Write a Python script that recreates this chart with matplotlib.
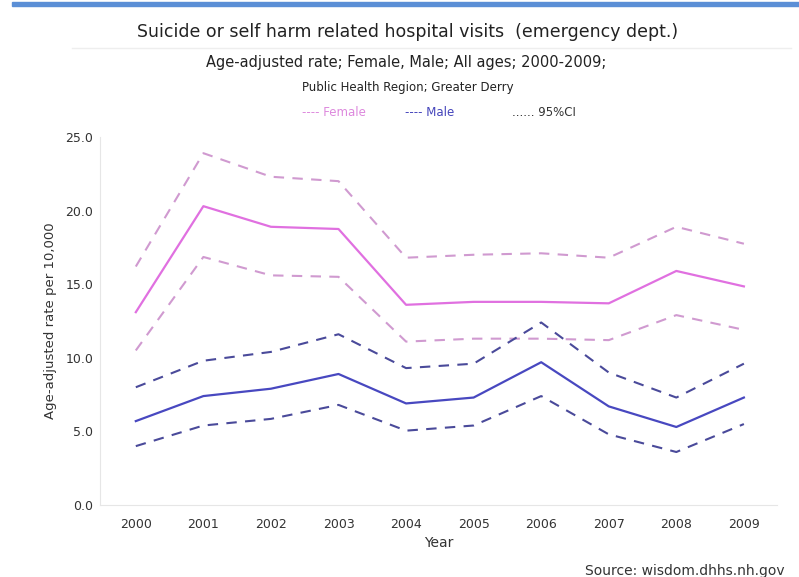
import numpy as np
import matplotlib.pyplot as plt

years = [2000, 2001, 2002, 2003, 2004, 2005, 2006, 2007, 2008, 2009]

# female rate and 95% CI
female = [13.1, 20.3, 18.9, 18.75, 13.6, 13.8, 13.8, 13.7, 15.9, 14.85]
female_hi = [16.2, 23.9, 22.3, 22.0, 16.8, 17.0, 17.1, 16.8, 18.9, 17.75]
female_lo = [10.5, 16.85, 15.6, 15.5, 11.1, 11.3, 11.3, 11.2, 12.9, 11.9]

# male rate and 95% CI
male = [5.7, 7.4, 7.9, 8.9, 6.9, 7.3, 9.7, 6.7, 5.3, 7.3]
male_hi = [8.0, 9.8, 10.4, 11.6, 9.3, 9.6, 12.4, 9.0, 7.3, 9.6]
male_lo = [4.0, 5.4, 5.85, 6.8, 5.05, 5.4, 7.4, 4.8, 3.6, 5.5]

yticks = [0, 5, 10, 15, 20, 25]

fig = plt.figure(figsize=(7.99, 5.77), dpi=100)
ax = fig.add_axes([100/799, 1 - 505/577, 677/799, 368/577])

pink = '#e070e0'
pink_ci = '#d09ad0'
blue = '#4848c0'
blue_ci = '#4a4a9a'

ax.plot(years, female_hi, color=pink_ci, lw=1.5, ls=(0, (5, 4)))
ax.plot(years, female_lo, color=pink_ci, lw=1.5, ls=(0, (5, 4)))
ax.plot(years, female, color=pink, lw=1.6)
ax.plot(years, male_hi, color=blue_ci, lw=1.5, ls=(0, (5, 4)))
ax.plot(years, male_lo, color=blue_ci, lw=1.5, ls=(0, (5, 4)))
ax.plot(years, male, color=blue, lw=1.6)

ax.set_xlim(1999.47, 2009.49)
ax.set_ylim(0, 25)
ax.set_xticks(years)
ax.set_yticks(yticks)
ax.set_yticklabels(['%.1f' % v for v in yticks])
ax.tick_params(length=0, labelsize=9, colors='#333333', pad=5)
ax.tick_params(axis='x', pad=9)
for s in ['top', 'right']:
    ax.spines[s].set_visible(False)
for s in ['left', 'bottom']:
    ax.spines[s].set_color('#e6e6e6')
ax.set_xlabel('Year', fontsize=10, color='#333333', labelpad=4)
ax.set_ylabel('Age-adjusted rate per 10,000', fontsize=9.5, color='#333333', labelpad=6)

# header
fig.patches.append(plt.Rectangle((0.015, 1 - 6/577), 0.985, 4/577, transform=fig.transFigure,
                                 color='#5b8fd6', zorder=0))
fig.text(0.51, 1 - 32/577, 'Suicide or self harm related hospital visits  (emergency dept.)',
         ha='center', va='center', fontsize=12.5, color='#222222')
fig.lines.append(plt.Line2D([0.09, 0.99], [1 - 48/577, 1 - 48/577], transform=fig.transFigure,
                            color='#eeeeee', lw=1))
fig.text(0.508, 1 - 63/577, 'Age-adjusted rate; Female, Male; All ages; 2000-2009;',
         ha='center', va='center', fontsize=10.5, color='#222222')
fig.text(0.51, 1 - 88/577, 'Public Health Region; Greater Derry',
         ha='center', va='center', fontsize=8.5, color='#222222')
fig.text(302/799, 1 - 112/577, '---- Female', ha='left', va='center', fontsize=8.5, color='#dd88dd')
fig.text(405/799, 1 - 112/577, '---- Male', ha='left', va='center', fontsize=8.5, color='#4444bb')
fig.text(512/799, 1 - 112/577, '...... 95%CI', ha='left', va='center', fontsize=8.5, color='#333333')

fig.text(785/799, 1 - 571/577, 'Source: wisdom.dhhs.nh.gov', ha='right', va='center',
         fontsize=10, color='#333333')

plt.savefig('out.png', dpi=100)
